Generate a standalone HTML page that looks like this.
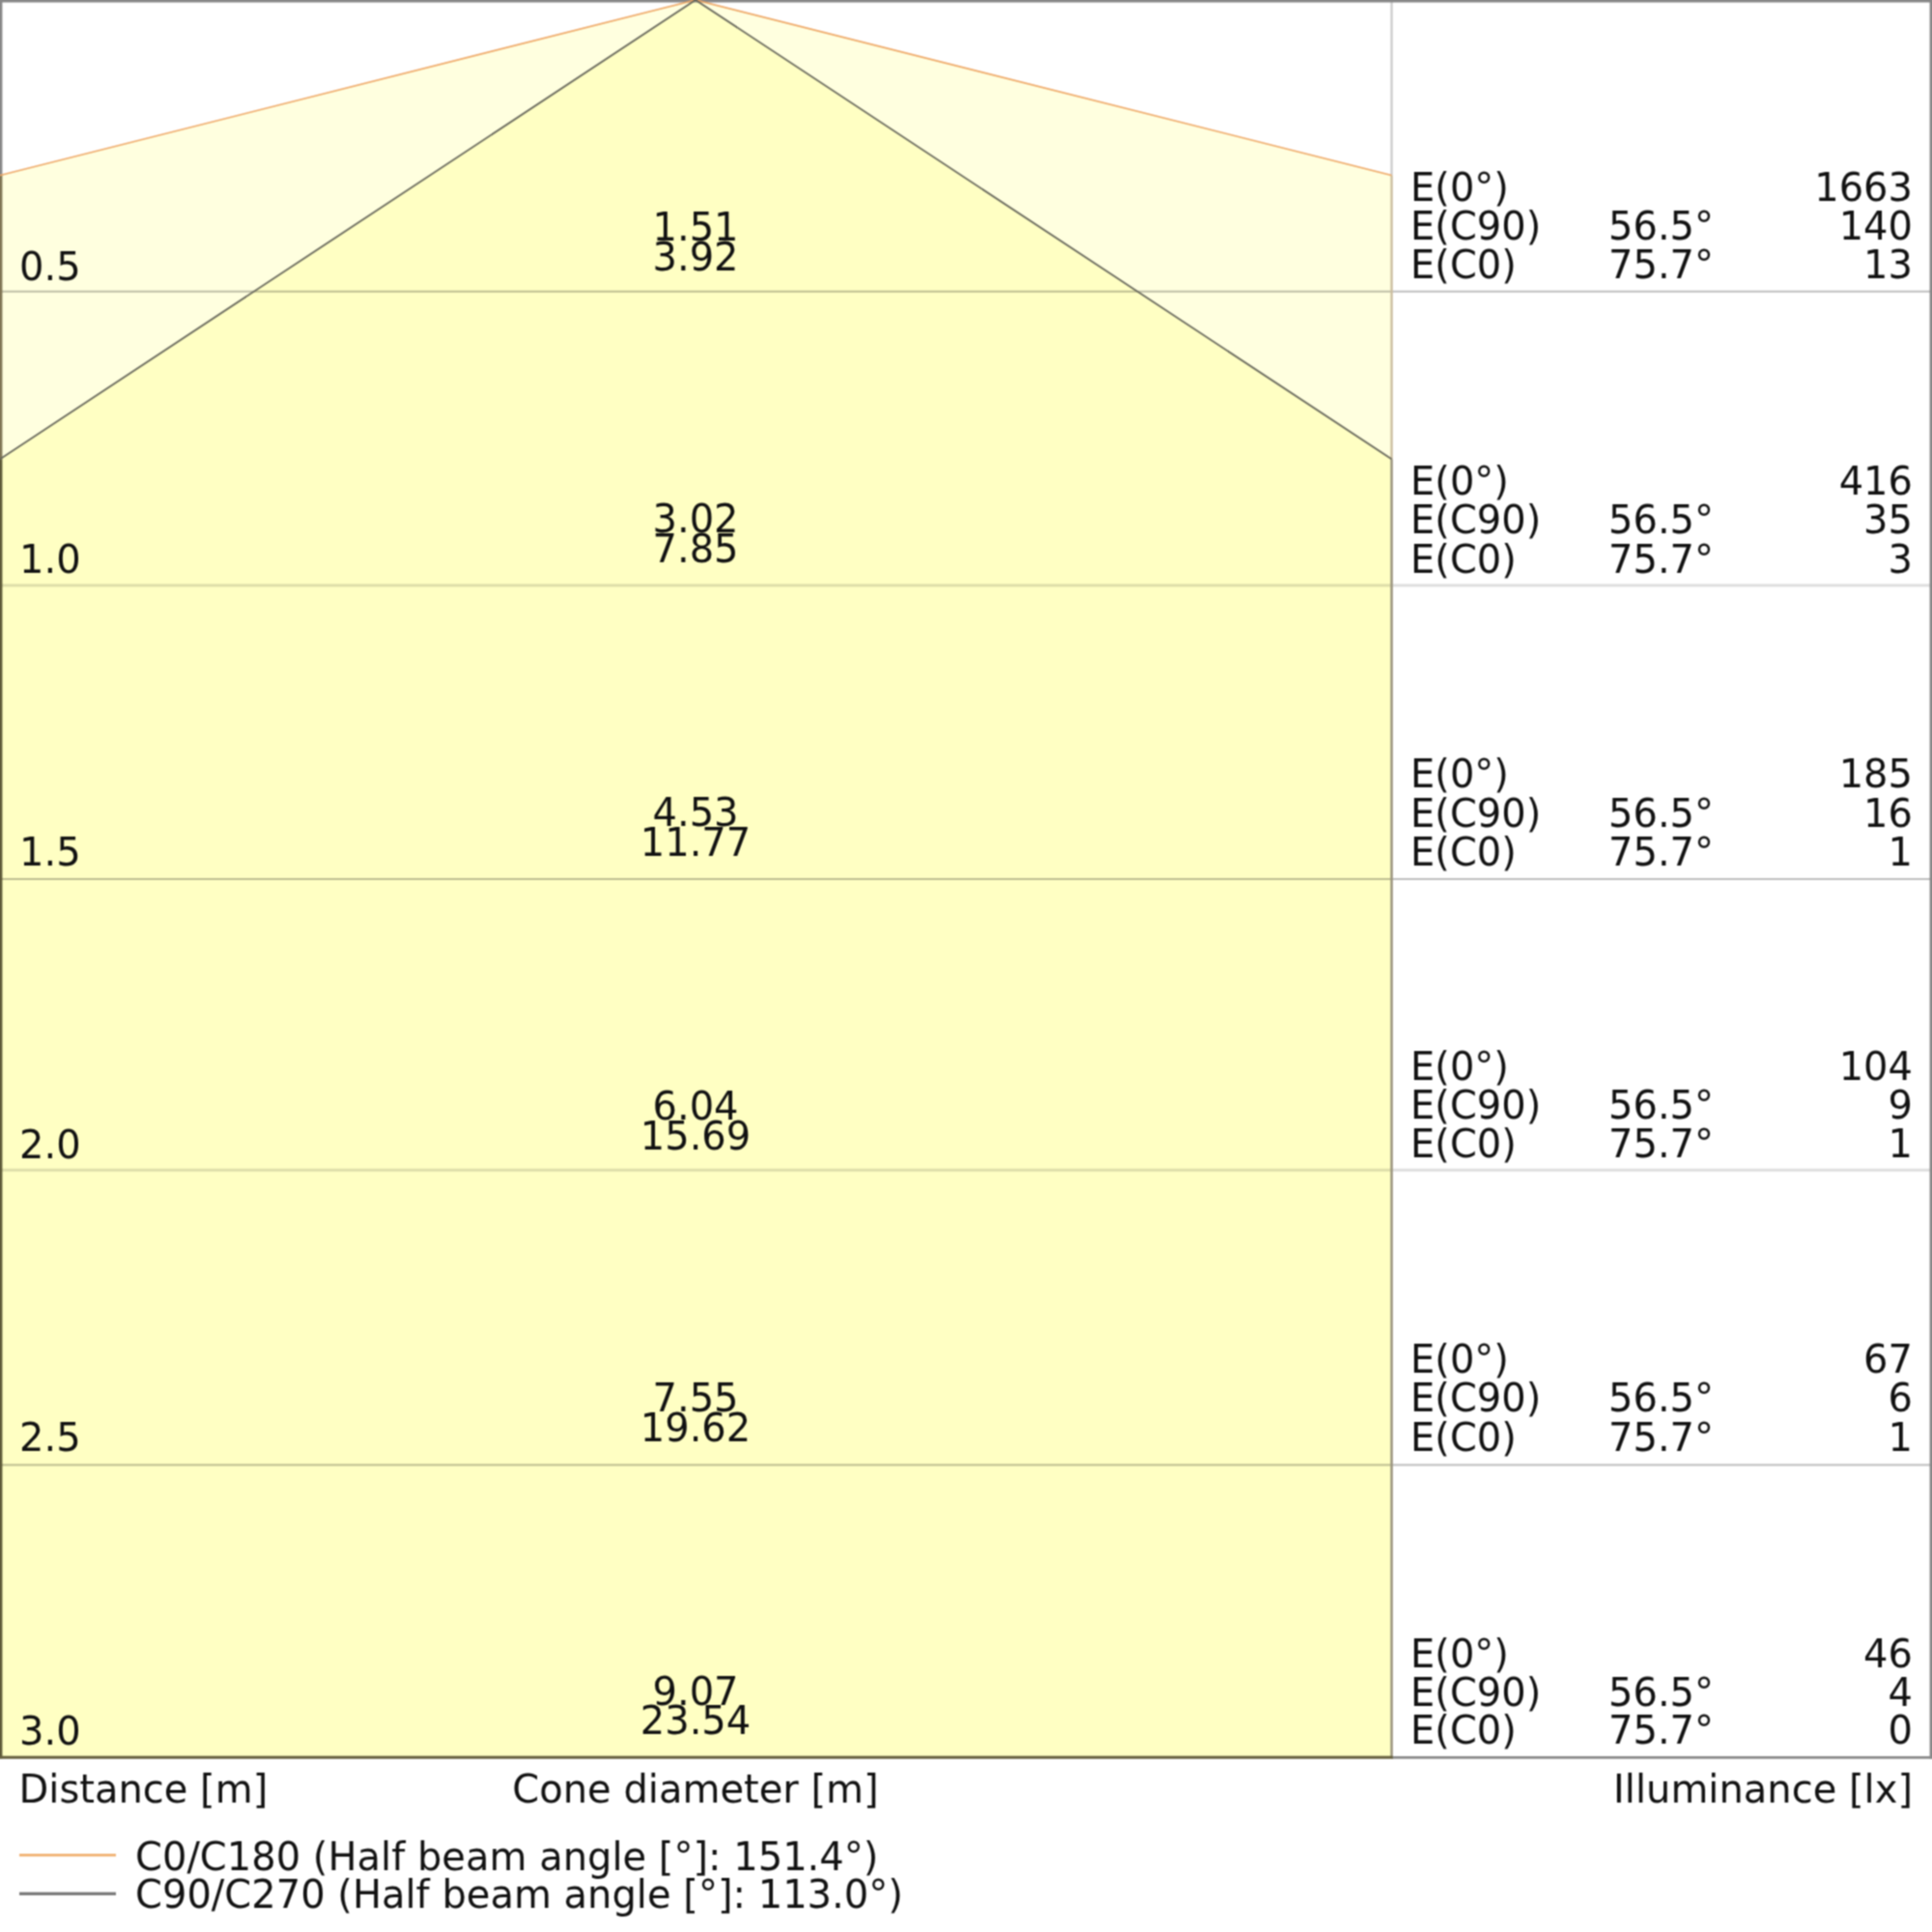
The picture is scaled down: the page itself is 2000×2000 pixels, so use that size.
<!DOCTYPE html><html><head><meta charset="utf-8"><title>Cone diagram</title><style>
html,body{margin:0;padding:0;background:#fff;overflow:hidden;}svg{display:block;}
text{font-family:"DejaVu Sans","Liberation Sans",sans-serif;font-size:40px;fill:#111;}
.m{text-anchor:middle}.e{text-anchor:end}
</style></head><body>
<svg width="2000" height="2000" viewBox="0 0 2000 2000">
<defs><filter id="bl" x="0" y="0" width="1" height="1" color-interpolation-filters="sRGB"><feConvolveMatrix order="3" kernelMatrix="1 2 1 2 4 2 1 2 1" divisor="16" edgeMode="duplicate"/></filter></defs>
<g filter="url(#bl)">
<rect x="0" y="0" width="2000" height="2000" fill="#fff"/>
<polygon points="720,0 0,181.5 0,1819 1440.6,1819 1440.6,181.5" fill="#ffff00" fill-opacity="0.125"/>
<polygon points="720,0 0,475.3 0,1819 1440.6,1819 1440.6,475.3" fill="#ffff00" fill-opacity="0.125"/>
<line x1="0" y1="301.8" x2="2000" y2="301.8" stroke="#000" stroke-opacity="0.26" stroke-width="2"/>
<line x1="0" y1="606" x2="2000" y2="606" stroke="#000" stroke-opacity="0.13" stroke-width="3"/>
<line x1="0" y1="910.1" x2="2000" y2="910.1" stroke="#000" stroke-opacity="0.26" stroke-width="2"/>
<line x1="0" y1="1211.3" x2="2000" y2="1211.3" stroke="#000" stroke-opacity="0.13" stroke-width="3"/>
<line x1="0" y1="1516.4" x2="2000" y2="1516.4" stroke="#000" stroke-opacity="0.26" stroke-width="2"/>
<line x1="1440.6" y1="0" x2="1440.6" y2="181.5" stroke="#cdcdcd" stroke-width="2.4"/>
<line x1="1440.6" y1="181.5" x2="1440.6" y2="475.3" stroke="#cbbd9f" stroke-width="2.4"/>
<line x1="1440.6" y1="475.3" x2="1440.6" y2="1819" stroke="#9c9680" stroke-width="2.6"/>
<line x1="0" y1="1.2" x2="2000" y2="1.2" stroke="#878787" stroke-width="2.4"/>
<line x1="1998.8" y1="0" x2="1998.8" y2="1820.5" stroke="#878787" stroke-width="2.4"/>
<line x1="1440.6" y1="1819.3" x2="2000" y2="1819.3" stroke="#8a8a8a" stroke-width="2.8"/>
<line x1="1.2" y1="0" x2="1.2" y2="181.5" stroke="#878787" stroke-width="2.4"/>
<line x1="1.2" y1="181.5" x2="1.2" y2="475.3" stroke="#807555" stroke-width="2.4"/>
<line x1="1.2" y1="475.3" x2="1.2" y2="1820.3" stroke="#5e5a38" stroke-width="2.4"/>
<line x1="0" y1="1819.3" x2="1441.8" y2="1819.3" stroke="#66603e" stroke-width="3"/>
<polyline points="0,181.5 720,0 1440.6,181.5" fill="none" stroke="#eea562" stroke-width="1.6"/>
<polyline points="0,475.3 720,0 1440.6,475.3" fill="none" stroke="#66665a" stroke-width="1.8"/>
<text x="20" y="289.6">0.5</text>
<text class="m" x="720" y="249.4">1.51</text>
<text class="m" x="720" y="279.6">3.92</text>
<text x="1460" y="208.1">E(0°)</text>
<text x="1460" y="247.8">E(C90)</text>
<text x="1460" y="287.6">E(C0)</text>
<text x="1665" y="247.8">56.5°</text>
<text x="1665" y="287.6">75.7°</text>
<text class="e" x="1980" y="208.1">1663</text>
<text class="e" x="1980" y="247.8">140</text>
<text class="e" x="1980" y="287.6">13</text>
<text x="20" y="592.6">1.0</text>
<text class="m" x="720" y="551.0">3.02</text>
<text class="m" x="720" y="582.0">7.85</text>
<text x="1460" y="511.9">E(0°)</text>
<text x="1460" y="551.8">E(C90)</text>
<text x="1460" y="592.7">E(C0)</text>
<text x="1665" y="551.8">56.5°</text>
<text x="1665" y="592.7">75.7°</text>
<text class="e" x="1980" y="511.9">416</text>
<text class="e" x="1980" y="551.8">35</text>
<text class="e" x="1980" y="592.7">3</text>
<text x="20" y="896.0">1.5</text>
<text class="m" x="720" y="855.0">4.53</text>
<text class="m" x="720" y="885.8">11.77</text>
<text x="1460" y="815.4">E(0°)</text>
<text x="1460" y="855.5">E(C90)</text>
<text x="1460" y="895.6">E(C0)</text>
<text x="1665" y="855.5">56.5°</text>
<text x="1665" y="895.6">75.7°</text>
<text class="e" x="1980" y="815.4">185</text>
<text class="e" x="1980" y="855.5">16</text>
<text class="e" x="1980" y="895.6">1</text>
<text x="20" y="1199.1">2.0</text>
<text class="m" x="720" y="1158.5">6.04</text>
<text class="m" x="720" y="1190.0">15.69</text>
<text x="1460" y="1117.8">E(0°)</text>
<text x="1460" y="1157.8">E(C90)</text>
<text x="1460" y="1198.0">E(C0)</text>
<text x="1665" y="1157.8">56.5°</text>
<text x="1665" y="1198.0">75.7°</text>
<text class="e" x="1980" y="1117.8">104</text>
<text class="e" x="1980" y="1157.8">9</text>
<text class="e" x="1980" y="1198.0">1</text>
<text x="20" y="1502.2">2.5</text>
<text class="m" x="720" y="1461.0">7.55</text>
<text class="m" x="720" y="1492.0">19.62</text>
<text x="1460" y="1421.2">E(0°)</text>
<text x="1460" y="1461.4">E(C90)</text>
<text x="1460" y="1502.0">E(C0)</text>
<text x="1665" y="1461.4">56.5°</text>
<text x="1665" y="1502.0">75.7°</text>
<text class="e" x="1980" y="1421.2">67</text>
<text class="e" x="1980" y="1461.4">6</text>
<text class="e" x="1980" y="1502.0">1</text>
<text x="20" y="1806.3">3.0</text>
<text class="m" x="720" y="1764.5">9.07</text>
<text class="m" x="720" y="1795.0">23.54</text>
<text x="1460" y="1725.7">E(0°)</text>
<text x="1460" y="1765.8">E(C90)</text>
<text x="1460" y="1805.4">E(C0)</text>
<text x="1665" y="1765.8">56.5°</text>
<text x="1665" y="1805.4">75.7°</text>
<text class="e" x="1980" y="1725.7">46</text>
<text class="e" x="1980" y="1765.8">4</text>
<text class="e" x="1980" y="1805.4">0</text>
<text x="19.5" y="1865.8">Distance [m]</text>
<text class="m" x="720" y="1865.8">Cone diameter [m]</text>
<text class="e" x="1980" y="1865.8">Illuminance [lx]</text>
<line x1="20" y1="1920.4" x2="120" y2="1920.4" stroke="#f0b070" stroke-width="2.7"/>
<line x1="20" y1="1960.4" x2="120" y2="1960.4" stroke="#7a7a7a" stroke-width="3.1"/>
<text x="140" y="1935.8">C0/C180 (Half beam angle [°]: 151.4°)</text>
<text x="140" y="1975.3">C90/C270 (Half beam angle [°]: 113.0°)</text>
</g>
</svg></body></html>
